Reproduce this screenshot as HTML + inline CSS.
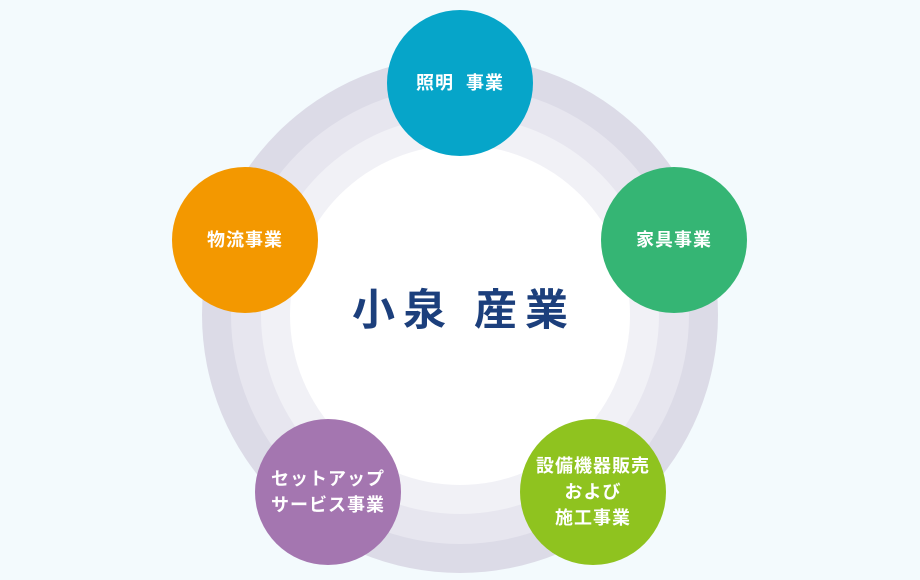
<!DOCTYPE html>
<html><head><meta charset="utf-8"><style>
html,body{margin:0;padding:0}
body{width:920px;height:580px;background:#f3fafd;position:relative;overflow:hidden;font-family:"Liberation Sans","Noto Sans CJK JP",sans-serif}
.r{position:absolute;border-radius:50%}
.c{position:absolute;width:146px;height:146px;border-radius:50%;color:#fff;font-weight:bold;font-size:18px;letter-spacing:1px;display:flex;align-items:center;justify-content:center;text-align:center;line-height:26px}
</style></head><body>
<div class="r" style="left:202px;top:57px;width:516px;height:516px;background:#dcdbe7"></div>
<div class="r" style="left:231px;top:86px;width:458px;height:458px;background:#e7e6ef"></div>
<div class="r" style="left:261px;top:116px;width:398px;height:398px;background:#f1f1f6"></div>
<div class="r" style="left:290px;top:145px;width:340px;height:340px;background:#fff"></div>
<div style="position:absolute;left:311px;top:281px;width:290px;text-align:center;font-size:43px;font-weight:bold;color:#1c3f7c;letter-spacing:8px;line-height:60px;padding-left:8px">小泉&nbsp;産業</div>
<div class="c" style="left:387px;top:10px;background:#06a5c9">照明&nbsp;&nbsp;事業</div>
<div class="c" style="left:601px;top:167px;background:#35b574">家具事業</div>
<div class="c" style="left:172px;top:167px;background:#f39800">物流事業</div>
<div class="c" style="left:255px;top:419px;background:#a476b0">セットアップ<br>サービス事業</div>
<div class="c" style="left:520px;top:419px;background:#8fc31f">設備機器販売<br>および<br>施工事業</div>
</body></html>
